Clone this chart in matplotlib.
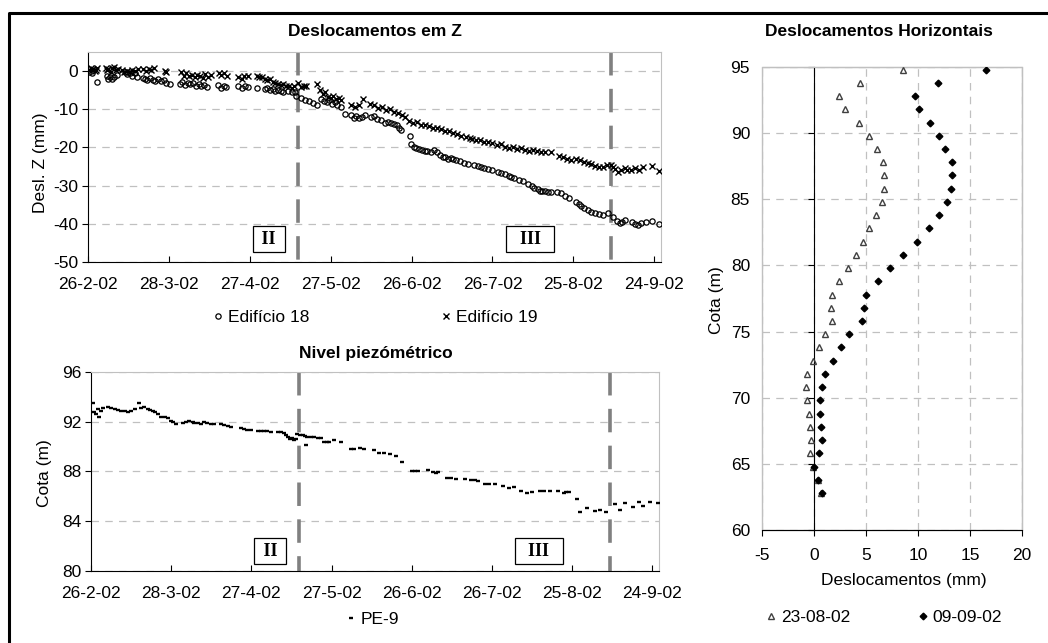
import matplotlib
matplotlib.use('Agg')
import matplotlib.pyplot as plt
import numpy as np
from matplotlib.lines import Line2D
from matplotlib.patches import Rectangle
from matplotlib.ticker import FuncFormatter, MultipleLocator
from datetime import datetime, timedelta

plt.rcParams['font.family'] = ['Liberation Sans', 'DejaVu Sans']
plt.rcParams['axes.unicode_minus'] = False

# --- data: (days after 26-2-02, value) ---
ed18 = [(0.5, -0.3), (1.5, -0.5), (3.2, -2.8),
        (6.9, -1.2), (7.5, -2.0), (8.2, -1.6), (9, -2.1), (9.8, -1.5), (10.6, -1.0),
        (13.7, -0.3), (14.5, -0.8), (15.5, -0.6), (16.5, -1.2), (17.3, -0.5), (18, -1.5),
        (20.5, -1.7), (21.3, -2.0), (22, -2.4), (23, -1.9), (24, -2.3), (25, -2.6),
        (26, -2.2), (27, -2.7), (28, -2.4), (29, -3.0), (30.4, -3.3),
        (34, -3.4), (35, -2.9), (36, -3.6), (37, -3.0), (38, -3.5), (39, -3.2),
        (40, -3.8), (41, -3.4), (42, -3.9), (43, -3.6), (44, -4.2),
        (48.3, -3.6), (49.3, -4.4), (50.3, -3.9), (51.3, -4.2),
        (55.7, -4.0), (57, -4.3), (58.3, -3.9), (59.4, -4.2), (62.5, -4.3),
        (65.6, -4.8), (66.5, -4.5), (67.5, -5.0), (68.5, -4.7), (69.5, -5.2),
        (70.5, -5.0), (71.7, -5.3), (72.5, -5.4), (74, -5.1), (75.5, -5.4),
        (76.7, -5.6), (77.3, -6.5), (79, -7.0), (80.5, -7.5), (82, -7.9),
        (83.5, -8.3), (85, -8.9), (86.5, -7.4), (87.5, -7.9), (88.5, -8.2),
        (89.5, -7.6), (90.5, -8.5), (91.5, -8.0), (92.5, -8.8), (94, -9.3),
        (95.2, -11.3), (97.6, -11.6), (98.5, -12.2), (99.5, -11.8), (100.5, -12.3),
        (101.5, -12.0), (102.6, -11.5), (105, -12.0), (106, -11.8), (107, -12.5),
        (108.5, -12.9), (110, -13.6), (111.2, -13.3), (112.5, -13.5), (113.5, -13.8),
        (114.5, -14.2), (115.5, -14.8), (116.2, -15.4), (119.3, -17.0),
        (119.9, -19.2), (120.8, -19.8), (121.8, -20.1), (122.8, -20.4), (123.8, -20.6),
        (124.8, -20.9), (125.8, -20.8), (127.3, -21.1), (128.5, -20.7), (129.5, -21.3),
        (130.5, -21.9), (131.5, -22.4), (132.5, -22.6), (133.5, -23.0), (134.5, -22.7),
        (135.5, -23.1), (136.5, -23.4), (138, -23.6), (139.5, -24.0), (141, -24.3),
        (143.3, -24.6), (144.6, -24.9), (145.8, -25.0), (147, -25.3), (148.5, -25.7),
        (150, -25.9), (152, -26.4), (153.2, -26.6), (154.5, -27.0), (156, -27.6),
        (157, -27.8), (158.1, -28.1), (160, -28.5), (161.5, -28.9), (163, -29.6),
        (164.5, -30.2), (165.5, -30.7), (166.7, -31.0), (167.5, -31.3), (168.5, -31.5),
        (169.5, -31.4), (170.5, -31.6), (171.7, -31.6), (174.1, -31.6), (175.5, -32.0),
        (177, -32.6), (178.5, -33.3), (180.9, -34.2), (182, -34.8), (183, -35.3),
        (184, -35.8), (185.3, -36.4), (186.5, -36.8), (188, -37.2), (189.5, -37.5),
        (191, -37.6), (192.7, -37.2), (194.6, -38.1), (196, -39.2), (197.2, -39.8),
        (198.2, -39.4), (199, -38.9), (201.6, -39.5), (203, -40.0), (204, -40.2),
        (205, -39.8), (206.9, -39.6), (209.3, -39.2), (211.8, -40.1)]

ed19 = [(0.5, 0.3), (1, 0.8), (1.5, 0.2), (2, 0.6), (2.5, 0.0), (3, 0.4), (3.5, 0.7),
        (6.5, 0.9), (7, 0.2), (7.5, 0.5), (8.5, -0.3), (9, 0.8), (9.5, 1.0), (10.2, 0.4),
        (11, 0.6), (12.5, 0.3), (13.5, -0.2), (14.5, 0.1), (15.5, -0.3), (16.5, 0.3),
        (17.5, 0.0), (18.5, 0.6), (20.5, 0.5), (21.5, 0.1), (22.5, 0.6), (23.5, 0.2),
        (24.5, 0.7), (28.5, 0.0), (29, -0.3),
        (34.5, -0.3), (35.5, -1.2), (36.5, -0.6), (37.5, -1.4), (38.5, -1.0), (39.5, -1.6),
        (40.5, -0.9), (41.5, -1.3), (42.5, -1.8), (43.5, -0.8), (44.5, -1.5), (45.5, -1.0),
        (48.5, -0.4), (49.5, -1.0), (50.5, -0.6), (51.5, -1.2),
        (55.8, -1.6), (57, -2.0), (58, -1.4), (59.3, -1.2),
        (62.5, -1.2), (63.5, -1.6), (64.5, -1.6), (65.5, -2.0), (66.5, -2.4), (67.5, -2.2),
        (68.5, -2.8), (69.5, -3.0), (70.5, -3.4), (71.5, -3.6), (72.5, -3.5), (73.5, -3.9),
        (74.5, -4.0), (75.5, -4.4), (76.5, -3.8), (78, -3.2), (79, -4.2), (80, -3.8),
        (81, -4.0), (85, -3.5), (86, -5.0), (87, -6.0), (88, -5.6), (89, -6.8), (90, -7.0),
        (91, -6.4), (92, -7.3), (93, -7.0), (94, -7.6), (97.6, -8.8), (99, -9.4),
        (100.5, -8.9), (102, -7.2), (104.5, -8.6), (106, -9.0), (107.5, -9.6), (109, -9.4),
        (110.5, -10.3), (112, -10.0), (113.5, -10.6), (115, -11.0), (116.5, -11.4),
        (117.5, -12.0), (119, -13.2), (120.5, -13.6), (122, -13.3), (123.5, -14.0),
        (125, -14.1), (126.5, -14.4), (128, -14.9), (129.5, -14.8), (131, -15.2),
        (132.5, -15.8), (134, -15.6), (135.5, -16.3), (137, -16.5), (138.5, -16.9),
        (140, -17.2), (141.5, -17.6), (142.5, -17.8), (144, -18.1), (145.5, -18.0),
        (147, -18.5), (148.5, -18.6), (150, -18.9), (151.5, -19.4), (153, -19.2),
        (154.5, -19.8), (156, -20.1), (157.5, -20.0), (159, -20.3), (160.5, -20.2),
        (162, -20.6), (163.5, -20.9), (165, -20.7), (166.5, -21.0), (168, -21.3),
        (169.5, -21.2), (171.8, -21.1), (174.5, -22.2), (176, -22.5), (177.5, -22.9),
        (179, -23.2), (181, -23.0), (182.5, -23.4), (184, -23.8), (185.3, -24.1),
        (186.5, -24.4), (188, -24.9), (189.5, -25.2), (191, -25.0), (192.5, -24.7),
        (193.9, -24.5), (194.6, -25.0), (195.5, -25.7), (196.5, -26.4), (197.5, -25.9),
        (199, -25.3), (200, -26.0), (201.5, -26.0), (203, -25.5), (204.5, -25.8),
        (206, -25.2), (209.3, -24.9), (211.8, -26.1)]

pe9 = [(0.75, 93.5), (1, 92.8), (1.8, 92.6), (2.5, 93.0), (3.1, 92.4), (3.6, 92.9), (4.5, 93.1),
       (6.3, 93.2), (7.5, 93.1), (8.8, 93.0), (10, 92.95), (11.3, 92.9), (12.6, 92.85),
       (13.8, 92.8), (15, 92.9), (16.3, 93.0), (17.8, 93.48), (18.8, 93.1), (20, 93.15),
       (21.3, 93.05), (21.9, 92.95), (23.1, 92.85), (24, 92.75), (25, 92.65),
       (26.2, 92.36), (27.5, 92.4), (28.7, 92.3), (30, 92.05), (30.8, 91.95), (31.8, 91.8),
       (34.3, 91.9), (35.5, 91.95), (36.8, 92.05), (38, 91.95), (38.7, 91.9),
       (39.9, 91.9), (41, 91.85), (42.3, 91.95), (43.5, 91.9), (44.8, 91.85), (46.1, 91.8),
       (48.6, 91.8), (49.8, 91.7), (51.2, 91.65), (52.4, 91.6), (56, 91.5), (57.2, 91.45),
       (58.5, 91.35), (59.8, 91.3), (62.3, 91.25), (63.6, 91.25), (64.8, 91.25),
       (66, 91.25), (67.3, 91.2), (69.8, 91.2), (71, 91.15), (72.3, 91.1),
       (72.9, 90.9), (73.6, 90.75), (74.4, 90.6), (75.2, 90.7), (75.9, 90.5), (76.6, 90.6),
       (77.2, 91.05), (78.2, 90.95), (79.2, 90.9), (80, 90.85), (80.9, 90.8), (80.3, 90.13),
       (82.2, 90.8), (83.5, 90.75), (85, 90.7), (86, 90.7), (87.2, 90.4), (88.2, 90.4),
       (89.1, 90.35), (91, 90.55), (93.4, 90.4), (97.1, 89.8), (98.5, 89.8),
       (100.5, 89.85), (102.1, 89.8), (105.8, 89.73), (107.8, 89.47), (109.8, 89.45),
       (112, 89.4), (114, 89.25), (116.2, 88.76), (120, 88.06), (121.2, 88.06),
       (122.4, 88.08), (125.9, 88.1), (128, 87.95), (129, 87.85), (130, 87.95),
       (133, 87.5), (134.5, 87.5), (136.5, 87.4), (140, 87.37), (142, 87.35),
       (143.5, 87.3), (144.6, 87.24), (147.5, 86.99), (149, 86.99), (151.1, 86.99),
       (154.1, 86.83), (156.3, 86.7), (158.2, 86.75), (161, 86.45), (163.1, 86.3),
       (165, 86.35), (167.8, 86.4), (169.5, 86.42), (171.9, 86.42), (174.6, 86.4),
       (176.9, 86.25), (177.8, 86.35), (178.7, 86.38), (181.8, 85.8),
       (183.1, 84.72), (185.6, 85.04), (188.7, 84.85), (190.5, 84.9), (192.7, 84.72),
       (195.9, 85.39), (198, 84.9), (199.9, 85.44), (202.6, 85.12), (204.9, 85.58),
       (206.7, 85.23), (209.2, 85.58), (212.3, 85.5)]

# inclinometer
cota = [94.8, 93.8, 92.8, 91.8, 90.8, 89.8, 88.8, 87.8, 86.8, 85.8, 84.8, 83.8, 82.8,
        81.8, 80.8, 79.8, 78.8, 77.8, 76.8, 75.8, 74.8, 73.8, 72.8, 71.8, 70.8, 69.8,
        68.8, 67.8, 66.8, 65.8, 64.8, 63.8, 62.8]
desl_230802 = [8.52, 4.40, 2.41, 3.02, 4.34, 5.31, 6.01, 6.66, 6.69, 6.75, 6.50, 5.98, 5.31,
               4.73, 4.08, 3.25, 2.38, 1.70, 1.61, 1.70, 1.03, 0.48, -0.13, -0.68, -0.77,
               -0.64, -0.48, -0.39, -0.32, -0.42, -0.10, 0.39, 0.71]
desl_090902 = [16.53, 11.90, 9.71, 10.06, 11.19, 12.03, 12.60, 13.28, 13.25, 13.22, 12.83,
               12.06, 11.03, 9.90, 8.55, 7.33, 6.17, 5.02, 4.76, 4.57, 3.41, 2.64, 1.80,
               1.09, 0.77, 0.61, 0.58, 0.64, 0.74, 0.45, 0.0, 0.39, 0.80]

phase_days = [78, 194]           # 15-5-02 and 9-9-02
start = datetime(2002, 2, 26)

W, H = 1048, 643
def box(l, t, r, b):
    return [l / W, 1 - b / H, (r - l) / W, (b - t) / H]
def fx(x):
    return x / W
def fy(y):
    return 1 - y / H

FS = 12.5
GRID = dict(color='#c0c0c0', linestyle=(0, (6, 5)), linewidth=0.9)
date_fmt = FuncFormatter(lambda v, p: '{0}-{1}-{2:%y}'.format(
    (start + timedelta(days=v)).day, (start + timedelta(days=v)).month, start + timedelta(days=v)))

fig = plt.figure(figsize=(W / 100, H / 100), dpi=100)


def style_time_axis(ax):
    ax.set_xlim(0, 212.5)
    ax.xaxis.set_major_locator(MultipleLocator(30))
    ax.xaxis.set_major_formatter(date_fmt)
    ax.tick_params(axis='x', direction='in', length=4, pad=11, labelsize=FS)
    ax.tick_params(axis='y', direction='out', length=4, pad=3, labelsize=FS)
    ax.yaxis.grid(True, **GRID)
    ax.set_axisbelow(True)
    for s in ['top', 'right']:
        ax.spines[s].set_color('#c0c0c0')
    for s in ['left', 'bottom']:
        ax.spines[s].set_color('black')
    for d in phase_days:
        ax.axvline(d, ymin=1, ymax=0, color='#808080', lw=2.6, dashes=(6.5, 3.7), zorder=1)


def phase_label(ax, x, y, txt):
    ax.text(x, y, txt, ha='center', va='center', fontsize=13, fontweight='bold',
            family='Liberation Serif', zorder=5,
            bbox=dict(boxstyle='square,pad=0.25', fc='white', ec='black', lw=0.9))


# --- Deslocamentos em Z ---
ax1 = fig.add_axes(box(88, 52, 661, 262))
d18 = np.array(ed18).T
d19 = np.array(ed19).T
ax1.plot(d18[0], d18[1], 'o', ms=3.8, mfc='none', mec='black', mew=0.9, label='Edifício 18', zorder=3)
ax1.plot(d19[0], d19[1], 'x', ms=4.2, color='black', mew=1.0, label='Edifício 19', zorder=3)
ax1.set_ylim(-50, 5)
ax1.set_yticks([0, -10, -20, -30, -40, -50])
style_time_axis(ax1)
phase_label(ax1, 67, -44, ' II ')
phase_label(ax1, 164, -44, '  III  ')
fig.text(fx(375), fy(31), 'Deslocamentos em Z', ha='center', va='center',
         fontsize=12.5, fontweight='bold')
fig.text(fx(40), fy(163), 'Desl. Z (mm)', ha='center', va='center', rotation=90, fontsize=FS)
fig.legend(*ax1.get_legend_handles_labels(), loc='center', bbox_to_anchor=(fx(375), fy(317)),
           ncol=2, frameon=False, fontsize=FS, handlelength=0.6, handletextpad=0.25,
           columnspacing=7.6, borderpad=0)

# --- Nivel piezometrico ---
ax2 = fig.add_axes(box(91, 372, 659, 571))
p9 = np.array(pe9).T
ax2.plot(p9[0], p9[1], '_', ms=3.2, mew=1.7, color='black', label='PE-9', zorder=3)
ax2.set_ylim(80, 96)
ax2.set_yticks([80, 84, 88, 92, 96])
style_time_axis(ax2)
phase_label(ax2, 67, 81.6, ' II ')
phase_label(ax2, 167.5, 81.6, '  III  ')
fig.text(fx(376), fy(353), 'Nivel piezómétrico', ha='center', va='center',
         fontsize=12.5, fontweight='bold')
fig.text(fx(45), fy(473), 'Cota (m)', ha='center', va='center', rotation=90, fontsize=FS)
fig.legend(*ax2.get_legend_handles_labels(), loc='center', bbox_to_anchor=(fx(372), fy(619)),
           frameon=False, fontsize=FS, handlelength=0.6, handletextpad=0.25, borderpad=0)

# --- Deslocamentos Horizontais ---
ax3 = fig.add_axes(box(762, 67, 1022, 530))
ax3.plot(desl_230802, cota, '^', ms=4, mfc='none', mec='#404040', mew=1.0, label='23-08-02', zorder=3)
ax3.plot(desl_090902, cota, 'D', ms=3.4, color='black', label='09-09-02', zorder=3)
ax3.set_xlim(-5, 20)
ax3.set_ylim(60, 95)
ax3.set_xticks([-5, 0, 5, 10, 15, 20])
ax3.set_yticks([60, 65, 70, 75, 80, 85, 90, 95])
ax3.grid(True, **GRID)
ax3.set_axisbelow(True)
ax3.spines['left'].set_position(('data', 0))
ax3.spines['left'].set_color('black')
ax3.spines['bottom'].set_color('black')
for s in ['top', 'right']:
    ax3.spines[s].set_color('#c0c0c0')
ax3.add_patch(Rectangle((0, 0), 1, 1, transform=ax3.transAxes, fill=False,
                        ec='#c0c0c0', lw=1, zorder=0.5, clip_on=False))
ax3.tick_params(axis='y', direction='out', length=4, pad=42, labelsize=FS)
ax3.tick_params(axis='x', direction='out', length=4, pad=9, labelsize=FS)
fig.text(fx(879), fy(31), 'Deslocamentos Horizontais', ha='center', va='center',
         fontsize=12.5, fontweight='bold')
fig.text(fx(904), fy(581), 'Deslocamentos (mm)', ha='center', va='center', fontsize=FS)
fig.text(fx(716), fy(300), 'Cota (m)', ha='center', va='center', rotation=90, fontsize=FS)
fig.legend(*ax3.get_legend_handles_labels(), loc='center', bbox_to_anchor=(fx(884), fy(617)),
           ncol=2, frameon=False, fontsize=FS, handlelength=0.6, handletextpad=0.25,
           columnspacing=3.9, borderpad=0)

# outer frame (left and top edges)
fig.add_artist(Line2D([fx(9), fx(9), 1.0], [0.0, fy(13), fy(13)], color='black', lw=2.2))

fig.savefig('out.png', dpi=100, facecolor='white')
